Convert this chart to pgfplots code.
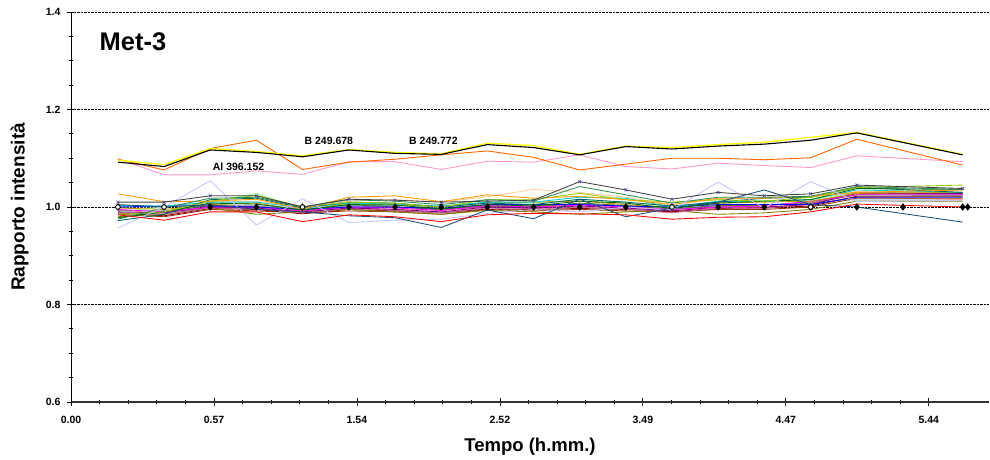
\documentclass[border=0pt]{standalone}
\usepackage{pgfplots}
\usepackage{pgfplotstable}
\pgfplotsset{compat=1.18}
\usepackage{fontspec}
\setmainfont{Liberation Sans}

\definecolor{cred}{HTML}{FF0000}
\definecolor{cnav}{HTML}{1F4E79}
\definecolor{clav}{HTML}{C4C4FF}
\definecolor{cgry}{HTML}{404040}
\definecolor{csea}{HTML}{2E8B57}
\definecolor{cor2}{HTML}{FF9900}
\definecolor{cpch}{HTML}{FFCC99}
\definecolor{cygr}{HTML}{99CC00}
\definecolor{clgr}{HTML}{99FF99}
\definecolor{ccyn}{HTML}{00CCCC}
\definecolor{ctea}{HTML}{006666}
\definecolor{cblu}{HTML}{0000FF}
\definecolor{cmag}{HTML}{FF00FF}
\definecolor{cpur}{HTML}{800080}
\definecolor{cbrn}{HTML}{993300}
\definecolor{cmar}{HTML}{800000}
\definecolor{colv}{HTML}{808000}
\definecolor{cdog}{HTML}{556B2F}
\definecolor{cros}{HTML}{FF9999}
\definecolor{cgld}{HTML}{CC9900}
\definecolor{cdgr}{HTML}{006600}
\definecolor{clbl}{HTML}{99CCFF}
\definecolor{cgra}{HTML}{999999}
\definecolor{cdpk}{HTML}{CC6699}
\definecolor{cyel}{HTML}{FFFF00}
\definecolor{corg}{HTML}{FF6600}
\definecolor{cpnk}{HTML}{FF99CC}
\definecolor{cmrk}{HTML}{4040A0}

% one row per series, transposed below
\pgfplotstableread{
name v0 v1 v2 v3 v4 v5 v6 v7 v8 v9 v10 v11 v12 v13 v14 v15 v16 v17
x   18.7  37.1  55.5  73.9  92.3  110.8 129.2 147.6 166.0 184.4 202.8 221.2 239.6 258.0 276.4 294.9 313.3 355.5
blk 1.092 1.083 1.117 1.112 1.103 1.117 1.110 1.108 1.128 1.122 1.107 1.124 1.119 1.125 1.129 1.137 1.152 1.107
yel 1.096 1.087 1.120 1.114 1.105 1.118 1.112 1.109 1.131 1.126 1.108 1.125 1.122 1.128 1.133 1.143 1.153 1.108
org 1.098 1.076 1.120 1.137 1.077 1.092 1.098 1.107 1.115 1.102 1.076 1.088 1.100 1.100 1.097 1.101 1.139 1.086
pnk 1.099 1.066 1.066 1.074 1.067 1.093 1.093 1.077 1.094 1.092 1.107 1.083 1.078 1.090 1.085 1.081 1.105 1.093
red 0.984 0.973 0.990 0.990 0.970 0.984 0.980 0.970 0.984 0.987 0.986 0.984 0.975 0.979 0.980 0.990 1.006 1.000
nav 1.005 1.000 1.005 0.995 0.990 0.982 0.978 0.958 0.994 0.976 1.016 0.980 0.998 1.010 1.035 1.005 1.000 0.969
lav 0.957 1.000 1.054 0.963 1.017 0.968 0.973 0.975 0.987 0.995 0.990 1.000 0.994 1.051 0.998 1.052 1.011 1.014
gry 1.010 1.010 1.023 1.023 1.000 1.016 1.014 1.010 1.012 1.014 1.052 1.035 1.016 1.030 1.023 1.027 1.045 1.038
sea 0.975 0.998 1.018 1.020 1.000 1.015 1.012 1.005 1.015 1.012 1.042 1.025 1.008 1.020 1.020 1.022 1.042 1.036
or2 1.027 1.011 1.012 1.016 0.996 1.020 1.023 1.011 1.025 1.018 1.022 1.015 1.005 1.018 1.018 1.022 1.030 1.035
pch 1.005 1.000 1.010 1.012 0.998 1.012 1.015 1.010 1.021 1.036 1.030 1.020 1.005 1.015 1.020 1.020 1.032 1.034
ygr 0.985 0.990 1.012 1.024 1.000 1.010 1.008 1.000 1.015 1.015 1.028 1.015 1.010 1.015 1.012 1.020 1.040 1.045
lgr 0.990 1.000 1.010 1.028 0.995 1.005 1.003 1.000 1.010 1.008 1.015 1.010 1.000 1.010 1.012 1.015 1.030 1.028
cyn 1.003 1.002 1.010 1.010 0.998 1.008 1.006 1.002 1.010 1.010 1.020 1.018 1.000 1.012 1.012 1.015 1.035 1.030
tea 0.972 0.985 1.015 1.018 0.998 1.010 1.008 1.000 1.008 1.005 1.016 1.010 1.002 1.010 1.018 1.020 1.040 1.030
blu 1.000 1.002 1.002 1.000 0.995 1.000 1.000 0.997 1.005 1.005 1.005 1.002 1.000 1.005 1.005 1.005 1.020 1.020
mag 0.995 0.990 1.000 1.000 0.992 1.000 0.998 0.993 1.003 1.000 1.004 1.000 0.995 1.000 1.002 1.012 1.025 1.025
pur 0.990 0.988 1.000 0.998 0.990 0.998 0.995 0.990 1.000 0.998 1.002 0.998 0.992 1.000 1.000 1.005 1.028 1.028
brn 0.985 0.980 0.995 0.992 0.988 0.992 0.990 0.985 0.995 0.992 0.995 0.992 0.990 0.995 0.995 1.000 1.018 1.018
mar 0.988 0.982 0.997 0.995 0.986 0.995 0.992 0.988 0.996 0.995 0.997 0.995 0.990 0.997 0.998 1.002 1.022 1.022
olv 0.980 0.985 0.998 0.985 0.990 0.995 0.990 0.985 0.993 0.990 0.985 0.990 0.993 0.985 0.988 0.995 1.012 1.012
dog 0.985 0.990 1.003 1.000 0.992 1.005 1.000 0.995 1.002 1.000 1.008 1.003 0.995 1.003 1.003 1.008 1.025 1.024
ros 0.995 0.985 1.000 1.002 0.990 1.000 0.995 0.993 1.000 1.003 1.000 0.998 0.990 1.000 0.998 1.006 1.020 1.015
gld 0.998 0.995 1.005 1.008 0.993 1.008 1.005 1.000 1.008 1.010 1.012 1.005 0.998 1.008 1.010 1.012 1.028 1.030
dgr 0.978 0.990 1.008 1.006 0.994 1.005 1.004 0.996 1.005 1.002 1.012 1.008 0.997 1.008 1.012 1.015 1.038 1.036
lbl 1.000 1.000 1.005 1.003 0.998 1.003 1.003 1.000 1.003 1.002 1.006 1.003 0.998 1.003 1.005 1.010 1.015 1.015
gra 0.993 0.992 1.004 1.002 0.995 1.002 1.000 0.994 1.002 1.002 1.005 1.002 0.996 1.003 1.003 1.010 1.028 1.026
dpk 0.988 0.985 0.998 0.997 0.988 0.997 0.993 0.988 0.998 0.997 0.999 0.996 0.988 0.998 0.997 1.008 1.030 1.027
}\rawdata
\pgfplotstabletranspose[colnames from=name]\ratios{\rawdata}

\newcommand{\ser}[2]{\addplot[color=#1, line width=0.85pt, no marks] table[x=x, y=#2] {\ratios};}

\begin{document}
\begin{tikzpicture}
\begin{axis}[
  name=main, at={(0,0)}, anchor=south west,
  scale only axis, width=918pt, height=390pt,
  xmin=0, xmax=366, ymin=0.6, ymax=1.4,
  axis x line=bottom, axis y line=left,
  x axis line style={-, line width=2pt, color=black!80},
  y axis line style={-, line width=0.8pt, color=black},
  xtick={0,57,114,171,228,285,342},
  xticklabels={0.00,0.57,1.54,2.52,3.49,4.47,5.44},
  ytick={0.6,0.8,1.0,1.2,1.4},
  yticklabels={0.6,0.8,1.0,1.2,1.4},
  minor x tick num=4, minor y tick num=3,
  tick align=center, major tick length=8pt, minor tick length=4pt,
  every tick/.style={black, line width=0.8pt},
  ymajorgrids=true,
  grid style={black, densely dotted, line width=0.8pt},
  tick label style={font=\bfseries\fontsize{10.5}{12}\selectfont},
  xticklabel style={yshift=-7pt},
  yticklabel style={xshift=-3pt},
  xlabel={Tempo (h.mm.)}, ylabel={Rapporto intensità},
  xlabel style={font=\bfseries\fontsize{18.5}{20}\selectfont, at={(axis description cs:0.5,-0.1146)}, anchor=center},
  ylabel style={font=\bfseries\fontsize{19}{20}\selectfont, at={(axis description cs:-0.056,0.5)}, anchor=center, rotate=0},
  clip=false,
]
\ser{clgr}{lgr}
\ser{cpch}{pch}
\ser{clbl}{lbl}
\ser{cros}{ros}
\ser{cgra}{gra}
\ser{cbrn}{brn}
\ser{cmar}{mar}
\ser{colv}{olv}
\ser{cdog}{dog}
\ser{cdpk}{dpk}
\ser{cpur}{pur}
\ser{cmag}{mag}
\ser{cgld}{gld}
\ser{cblu}{blu}
\ser{ccyn}{cyn}
\ser{ctea}{tea}
\ser{cdgr}{dgr}
\ser{cygr}{ygr}
\ser{cor2}{or2}
\ser{csea}{sea}
\ser{clav}{lav}
\ser{cnav}{nav}
\ser{cred}{red}
\addplot[color=cgry, line width=0.85pt, mark=x, mark size=2pt, mark options={color=cmrk, line width=0.6pt}] table[x=x, y=gry] {\ratios};
% reference points at 1.0
\addplot[only marks, mark=diamond*, mark size=3.4pt, black] coordinates {
  (18.7,1) (37.1,1) (55.5,1) (73.9,1) (92.3,1) (110.8,1) (129.2,1) (147.6,1) (166.0,1)
  (184.4,1) (202.8,1) (221.2,1) (239.6,1) (258.0,1) (276.4,1) (294.9,1) (313.3,1) (331.7,1)
  (355.5,1) (357.5,1)};
\addplot[only marks, mark=*, mark size=2.3pt, mark options={fill=white, draw=black, line width=0.8pt}] coordinates {
  (18.7,1) (37.1,1) (92.3,1) (239.6,1) (294.9,1)};
% upper group
\addplot[color=cpnk, line width=0.9pt, no marks] table[x=x, y=pnk] {\ratios};
\addplot[color=corg, line width=0.9pt, no marks] table[x=x, y=org] {\ratios};
\addplot[color=cyel, line width=1.3pt, no marks] table[x=x, y=yel] {\ratios};
\addplot[color=black, line width=1.1pt, no marks] table[x=x, y=blk] {\ratios};
\node[font=\bfseries\fontsize{10.5}{12}\selectfont] at (axis cs:102.8,1.135) {B 249.678};
\node[font=\bfseries\fontsize{10.5}{12}\selectfont] at (axis cs:144.5,1.135) {B 249.772};
\node[font=\bfseries\fontsize{10.5}{12}\selectfont] at (axis cs:66.8,1.083) {Al 396.152};
\node[font=\bfseries\fontsize{25.5}{28}\selectfont] at (axis cs:24.7,1.340) {Met-3};
\end{axis}
\path (-71pt,-57pt) rectangle (919pt,402pt);
\end{tikzpicture}
\end{document}
